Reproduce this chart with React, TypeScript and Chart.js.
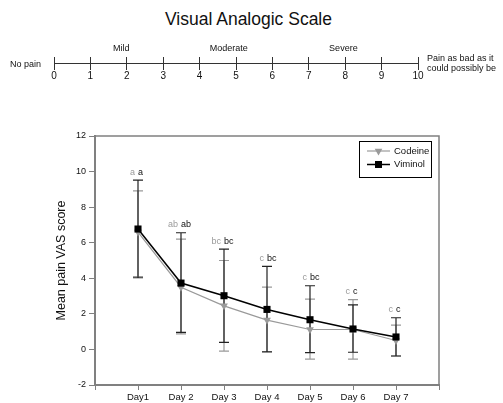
import React, { useEffect, useRef } from 'react';
import { Chart, registerables } from 'chart.js';

Chart.register(...registerables);

const FONT = "'Liberation Sans', Arial, Helvetica, sans-serif";

// ---------- Visual Analogic Scale ----------
const vasTitle = 'Visual Analogic Scale';
const vasMin = 0;
const vasMax = 10;
const vasCategories = ['Mild', 'Moderate', 'Severe'];
const vasCategoryAt = [1.85, 4.8, 7.95];
const vasLeftLabel = 'No pain';
const vasRightLabel = ['Pain as bad as it', 'could possibly be'];

// ---------- Main chart data ----------
const days = ['Day1', 'Day 2', 'Day 3', 'Day 4', 'Day 5', 'Day 6', 'Day 7'];
const codeineMean = [6.6, 3.5, 2.45, 1.65, 1.12, 1.12, 0.5];
const codeineHigh = [8.92, 6.2, 5.0, 3.5, 2.83, 2.8, 1.37];
const codeineLow = [4.1, 0.87, -0.1, -0.15, -0.54, -0.54, -0.37];
const viminolMean = [6.77, 3.73, 3.02, 2.25, 1.67, 1.15, 0.7];
const viminolHigh = [9.52, 6.56, 5.64, 4.67, 3.58, 2.5, 1.78];
const viminolLow = [4.03, 0.96, 0.4, -0.13, -0.18, -0.16, -0.37];
const codeineLetters = ['a', 'ab', 'bc', 'c', 'c', 'c', 'c'];
const viminolLetters = ['a', 'ab', 'bc', 'bc', 'bc', 'c', 'c'];
const yMin = -2;
const yMax = 12;
const yStep = 2;
const yTitle = 'Mean pain VAS score';

const GRAY = '#9a9a9a';
const BLACK = '#000000';

const vasLabelsPlugin = {
  id: 'vasLabels',
  afterDraw(chart: any) {
    const sx = chart.scales.x;
    const ca = chart.chartArea;
    const ctx = chart.ctx;
    ctx.save();
    ctx.font = `9px ${FONT}`;
    ctx.fillStyle = '#111';
    ctx.textBaseline = 'middle';
    ctx.textAlign = 'center';
    vasCategories.forEach((t, i) => {
      ctx.fillText(t, sx.getPixelForValue(vasCategoryAt[i]), ca.top - 8);
    });
    ctx.textAlign = 'right';
    ctx.fillText(vasLeftLabel, sx.left - 13, ca.bottom + 2);
    ctx.textAlign = 'left';
    vasRightLabel.forEach((t, i) => {
      ctx.fillText(t, sx.right + 9, ca.bottom - 4 + i * 10);
    });
    ctx.restore();
  },
};

const framePlugin = {
  id: 'frame',
  beforeDatasetsDraw(chart: any) {
    const { ctx, chartArea: ca } = chart;
    ctx.save();
    ctx.strokeStyle = '#808080';
    ctx.lineWidth = 1.5;
    ctx.beginPath();
    ctx.moveTo(ca.left, ca.top);
    ctx.lineTo(ca.right, ca.top);
    ctx.lineTo(ca.right, ca.bottom);
    ctx.stroke();
    ctx.restore();
  },
};

const errorBarPlugin = {
  id: 'errorBars',
  beforeDatasetsDraw(chart: any) {
    const { ctx } = chart;
    const x = chart.scales.x;
    const y = chart.scales.y;
    const series = [
      { low: codeineLow, high: codeineHigh, color: GRAY },
      { low: viminolLow, high: viminolHigh, color: '#222' },
    ];
    ctx.save();
    ctx.lineWidth = 1.2;
    series.forEach((s) => {
      ctx.strokeStyle = s.color;
      days.forEach((_, i) => {
        const px = x.getPixelForValue(i + 1);
        const yh = y.getPixelForValue(s.high[i]);
        const yl = y.getPixelForValue(s.low[i]);
        ctx.beginPath();
        ctx.moveTo(px, yh);
        ctx.lineTo(px, yl);
        ctx.moveTo(px - 5, yh);
        ctx.lineTo(px + 5, yh);
        ctx.moveTo(px - 5, yl);
        ctx.lineTo(px + 5, yl);
        ctx.stroke();
      });
    });
    ctx.restore();
  },
};

const lettersPlugin = {
  id: 'letters',
  afterDatasetsDraw(chart: any) {
    const { ctx } = chart;
    const x = chart.scales.x;
    const y = chart.scales.y;
    ctx.save();
    ctx.font = `9px ${FONT}`;
    ctx.textBaseline = 'middle';
    days.forEach((_, i) => {
      const px = x.getPixelForValue(i + 1);
      const ty = y.getPixelForValue(Math.max(codeineHigh[i], viminolHigh[i])) - 8;
      ctx.textAlign = 'right';
      ctx.fillStyle = GRAY;
      ctx.fillText(codeineLetters[i], px - 3, ty);
      ctx.textAlign = 'left';
      ctx.fillStyle = '#111';
      ctx.fillText(viminolLetters[i], px, ty);
    });
    ctx.restore();
  },
};

const legendPlugin = {
  id: 'boxLegend',
  afterDraw(chart: any) {
    const { ctx, chartArea: ca } = chart;
    const w = 72;
    const h = 36;
    const left = ca.right - 8 - w;
    const top = ca.top + 5;
    ctx.save();
    ctx.fillStyle = '#fff';
    ctx.fillRect(left, top, w, h);
    ctx.strokeStyle = '#000';
    ctx.lineWidth = 1;
    ctx.strokeRect(Math.round(left) + 0.5, Math.round(top) + 0.5, w, h);
    chart.data.datasets.forEach((ds: any, i: number) => {
      const cy = top + 10 + i * 13.5;
      ctx.strokeStyle = ds.borderColor;
      ctx.lineWidth = ds.borderWidth;
      ctx.beginPath();
      ctx.moveTo(left + 8, cy);
      ctx.lineTo(left + 31, cy);
      ctx.stroke();
      const mx = left + 19.5;
      ctx.fillStyle = ds.backgroundColor;
      if (ds.pointStyle === 'rect') {
        ctx.fillRect(mx - 3.5, cy - 3.5, 7, 7);
      } else {
        ctx.beginPath();
        ctx.moveTo(mx - 3.8, cy - 2.2);
        ctx.lineTo(mx + 3.8, cy - 2.2);
        ctx.lineTo(mx, cy + 4.4);
        ctx.closePath();
        ctx.fill();
      }
      ctx.fillStyle = '#111';
      ctx.font = `9.5px ${FONT}`;
      ctx.textAlign = 'left';
      ctx.textBaseline = 'middle';
      ctx.fillText(ds.label, left + 35, cy);
    });
    ctx.restore();
  },
};

export default function App() {
  const vasRef = useRef<HTMLCanvasElement>(null);
  const mainRef = useRef<HTMLCanvasElement>(null);

  useEffect(() => {
    const vas = new Chart(vasRef.current as HTMLCanvasElement, {
      type: 'line',
      data: { datasets: [] },
      options: {
        responsive: false,
        animation: false,
        layout: { padding: { left: 54, right: 85, top: 17, bottom: 7 } },
        plugins: { legend: { display: false }, tooltip: { enabled: false }, title: { display: false } },
        scales: {
          x: {
            type: 'linear',
            min: vasMin,
            max: vasMax,
            afterFit: (s: any) => {
              s.height = 20;
            },
            ticks: {
              stepSize: 1,
              padding: 0,
              autoSkip: false,
              maxRotation: 0,
              font: { family: FONT, size: 10 },
              color: '#111',
            },
            grid: { color: '#333', lineWidth: 1, tickLength: 7, drawOnChartArea: true, drawTicks: true },
            border: { display: true, color: '#333', width: 1 },
          },
          y: { display: false, min: 0, max: 1 },
        },
      } as any,
      plugins: [vasLabelsPlugin],
    });

    const main = new Chart(mainRef.current as HTMLCanvasElement, {
      type: 'line',
      data: {
        datasets: [
          {
            label: 'Codeine',
            data: days.map((_, i) => ({ x: i + 1, y: codeineMean[i] })),
            borderColor: GRAY,
            backgroundColor: GRAY,
            borderWidth: 1.2,
            pointStyle: 'triangle',
            pointRotation: 180,
            pointRadius: 4.5,
            pointBorderWidth: 0,
            tension: 0,
            order: 1,
          },
          {
            label: 'Viminol',
            data: days.map((_, i) => ({ x: i + 1, y: viminolMean[i] })),
            borderColor: BLACK,
            backgroundColor: BLACK,
            borderWidth: 1.5,
            pointStyle: 'rect',
            pointRadius: 5,
            pointBorderWidth: 0,
            tension: 0,
            order: 0,
          },
        ],
      },
      options: {
        responsive: false,
        animation: false,
        layout: { padding: { top: 36, right: 64, left: 0, bottom: 0 } },
        plugins: { legend: { display: false }, tooltip: { enabled: false } },
        scales: {
          x: {
            type: 'linear',
            min: 0,
            max: days.length + 1,
            afterFit: (s: any) => {
              s.height = 18;
            },
            ticks: {
              stepSize: 1,
              autoSkip: false,
              maxRotation: 0,
              padding: 2,
              font: { family: FONT, size: 9.5 },
              color: '#111',
              callback: (v: any) => days[Number(v) - 1] ?? '',
            },
            grid: { drawOnChartArea: false, tickLength: 5, color: '#808080', lineWidth: 1 },
            border: { color: '#808080', width: 2 },
          },
          y: {
            min: yMin,
            max: yMax,
            afterFit: (s: any) => {
              s.width = 95;
            },
            ticks: { stepSize: yStep, padding: 3, font: { family: FONT, size: 9 }, color: '#111' },
            grid: { drawOnChartArea: false, tickLength: 6, color: '#808080', lineWidth: 1 },
            border: { color: '#808080', width: 2 },
            title: {
              display: true,
              text: yTitle,
              font: { family: FONT, size: 12.5 },
              color: '#111',
              padding: { top: 54.5, bottom: 0 },
            },
          },
        },
      } as any,
      plugins: [framePlugin, errorBarPlugin, lettersPlugin, legendPlugin],
    });

    return () => {
      vas.destroy();
      main.destroy();
    };
  }, []);

  return (
    <div
      style={{
        position: 'absolute',
        left: 0,
        top: 0,
        width: 503,
        height: 403,
        background: '#fff',
        overflow: 'hidden',
        fontFamily: FONT,
      }}
    >
      <div
        style={{
          position: 'absolute',
          left: 0,
          top: 11,
          width: 497,
          textAlign: 'center',
          fontSize: '17.5px',
          lineHeight: '17.5px',
          color: '#111',
          whiteSpace: 'nowrap',
        }}
      >
        {vasTitle}
      </div>
      <canvas
        ref={vasRef}
        width={503}
        height={50}
        style={{ position: 'absolute', left: 0, top: 40, width: 503, height: 50 }}
      />
      <canvas
        ref={mainRef}
        width={503}
        height={303}
        style={{ position: 'absolute', left: 0, top: 100, width: 503, height: 303 }}
      />
    </div>
  );
}
